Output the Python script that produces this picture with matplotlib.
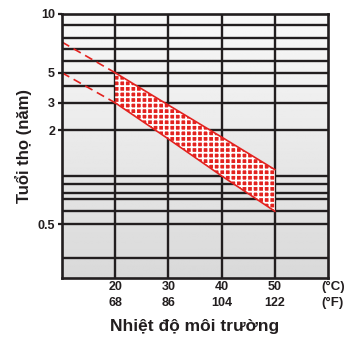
import numpy as np
import matplotlib
matplotlib.use("Agg")
import matplotlib.pyplot as plt

plt.rcParams['font.family'] = ['Liberation Sans', 'DejaVu Sans']
plt.rcParams['hatch.linewidth'] = 1.3

# ---- data ----
temp_c = [20, 30, 40, 50]
temp_f = ["68", "86", "104", "122"]
upper_life = [5.0, 2.9, 1.8, 1.1]
lower_life = [3.0, 1.75, 1.0, 0.6]
dash_temp = [10, 20]
dash_upper = [7.6, 5.0]
dash_lower = [5.0, 3.0]
ytick_values = [0.5, 2, 3, 5, 10]
ytick_labels = ["0.5", "2", "3", "5", "10"]
grid_values = [0.3, 0.5, 0.6, 0.7, 0.8, 0.9, 1, 2, 3, 4, 5, 6, 7, 8, 9]

# ---- nonuniform y scale of the original chart (value -> position) ----
scale_values = [0.22, 0.3, 0.5, 0.6, 0.7, 0.8, 0.9, 1, 2, 3, 4, 5, 6, 7, 8, 9, 10]
scale_from_top = [277.7, 258, 224, 211, 199, 192.7, 184, 175.7, 130, 102.7, 86,
                  72.7, 61, 49, 37.7, 25, 14]
_logv = np.log10(scale_values)
_pos = 277.7 - np.array(scale_from_top)


def fwd(v):
    v = np.clip(np.asarray(v, dtype=float), 1e-3, None)
    return np.interp(np.log10(v), _logv, _pos, left=_pos[0] - 1e3, right=_pos[-1] + 1e3)


def inv(p):
    return 10 ** np.interp(np.asarray(p, dtype=float), _pos, _logv)


RED = '#e3221f'
INK = '#221e1f'

W, H = 344, 338
fig = plt.figure(figsize=(W / 100, H / 100), dpi=100)
ax = fig.add_axes([62 / W, 1 - 278 / H, 266 / W, 264 / H])
ax.set_yscale('function', functions=(fwd, inv))
ax.set_xlim(10, 60)
ax.set_ylim(0.22, 10)

# background gradient
grad = np.linspace(0.975, 0.85, 256).reshape(-1, 1)
ax.imshow(grad, cmap='gray', vmin=0, vmax=1, aspect='auto',
          extent=[0, 1, 0, 1], transform=ax.transAxes, zorder=0, origin='upper')

# grid
for gv in grid_values:
    ax.axhline(gv, color=INK, lw=1.7, zorder=1)
for tc in temp_c:
    ax.axvline(tc, color=INK, lw=1.7, zorder=1)

# band
ax.fill_between(temp_c, lower_life, upper_life, facecolor=RED, edgecolor='white',
                hatch='+++', linewidth=0, zorder=2)
ax.plot(temp_c, upper_life, color=RED, lw=1.2, zorder=3)
ax.plot(temp_c, lower_life, color=RED, lw=1.2, zorder=3)
ax.plot(dash_temp, dash_upper, color=RED, lw=1.2, dashes=(5, 3), zorder=3)
ax.plot(dash_temp, dash_lower, color=RED, lw=1.2, dashes=(5, 3), zorder=3)

for s in ax.spines.values():
    s.set_linewidth(1.9)
    s.set_color(INK)
    s.set_zorder(4)

ax.set_yticks(ytick_values)
ax.set_yticklabels(ytick_labels, fontsize=9, fontweight='bold', color=INK)
ax.yaxis.set_minor_locator(matplotlib.ticker.NullLocator())
ax.tick_params(axis='y', length=3, width=1.6, color=INK, pad=2)
ax.set_xticks([])

for tc, tf in zip(temp_c, temp_f):
    ax.text(tc, -0.034, str(tc), transform=ax.get_xaxis_transform(), ha='center',
            va='center', fontsize=9, fontweight='bold', color=INK)
    ax.text(tc, -0.095, tf, transform=ax.get_xaxis_transform(), ha='center',
            va='center', fontsize=9, fontweight='bold', color=INK)

fig.text(333 / W, 1 - 287 / H, "(°C)", ha='center', va='center', fontsize=9.5,
         fontweight='bold', color=INK)
fig.text(333 / W, 1 - 303 / H, "(°F)", ha='center', va='center', fontsize=9.5,
         fontweight='bold', color=INK)

fig.text(195 / W, 1 - 327 / H, "Nhiệt độ môi trường", ha='center', va='center',
         fontsize=12.5, fontweight='bold', color=INK)
fig.text(24 / W, 1 - 146 / H, "Tuổi thọ (năm)", ha='center', va='center',
         rotation=90, fontsize=12, fontweight='bold', color=INK)

fig.savefig("out.png", dpi=100)
